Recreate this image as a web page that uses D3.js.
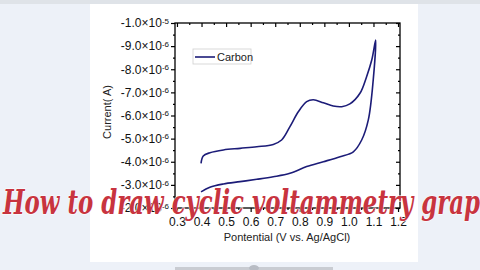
<!DOCTYPE html>
<html><head><meta charset="utf-8">
<script src="https://cdn.jsdelivr.net/npm/d3@7"></script>
<style>
html,body{margin:0;padding:0;background:#edf1f8;}
svg{display:block;font-family:"Liberation Sans",Arial,sans-serif;}
</style></head>
<body>
<svg id="c" width="480" height="270"></svg>
<script>
// ---- data ----
const upperPotential = [0.398,0.407,0.434,0.489,0.557,0.625,0.692,0.726,0.760,0.794,0.828,0.855,0.896,0.936,0.971,1.004,1.045,1.072,1.093,1.109];
const upperCurrent   = [-3.93e-6,-4.25e-6,-4.39e-6,-4.51e-6,-4.58e-6,-4.65e-6,-4.75e-6,-4.94e-6,-5.52e-6,-6.16e-6,-6.60e-6,-6.68e-6,-6.55e-6,-6.41e-6,-6.38e-6,-6.50e-6,-6.96e-6,-7.68e-6,-8.40e-6,-9.26e-6];
const lowerPotential = [1.099,1.079,1.052,1.018,0.964,0.896,0.828,0.760,0.692,0.625,0.557,0.489,0.434,0.398];
const lowerCurrent   = [-7.54e-6,-5.81e-6,-4.94e-6,-4.43e-6,-4.22e-6,-4.00e-6,-3.79e-6,-3.50e-6,-3.35e-6,-3.24e-6,-3.14e-6,-3.04e-6,-2.90e-6,-2.70e-6];
const xTicks = [0.3,0.4,0.5,0.6,0.7,0.8,0.9,1.0,1.1,1.2];
const yTicks = [-2e-6,-3e-6,-4e-6,-5e-6,-6e-6,-7e-6,-8e-6,-9e-6,-1e-5];
const seriesName = "Carbon";
const xTitle = "Pontential (V vs. Ag/AgCl)";
const yTitle = "Current( A)";
const banner = "How to draw cyclic voltammetry grap";

const svg = d3.select("#c");
// page background pieces
svg.append("rect").attr("x",0).attr("y",0).attr("width",480).attr("height",270).attr("fill","#edf1f8");
svg.append("rect").attr("x",0).attr("y",0).attr("width",480).attr("height",4).attr("fill","#dfe3e8");
svg.append("rect").attr("x",90).attr("y",4).attr("width",328).attr("height",258).attr("fill","#ffffff");
svg.append("rect").attr("x",175).attr("y",267).attr("width",158).attr("height",3).attr("fill","#c9ccd2");
svg.append("ellipse").attr("cx",254).attr("cy",268).attr("rx",5).attr("ry",3).attr("fill","#b8bcc4");

const L=175,R=400,T=23,B=208;
const x = d3.scaleLinear().domain([0.292,1.208]).range([L,R]);
const y = d3.scaleLinear().domain([-2e-6,-1e-5]).range([B,T]);

const minorX = d3.range(0.35,1.2,0.1);
const minorY = yTicks.slice(0,-1).map(v=>v-0.5e-6);

function fmtY(g){
  g.selectAll(".tick text").each(function(d){
    const t=d3.select(this);
    const e = Math.abs(d)>=9.99e-6 ? -5 : -6;
    const m = d/Math.pow(10,e);
    t.text(null);
    t.append("tspan").text(m.toFixed(1)+"×10");
    t.append("tspan").attr("dy","-0.45em").attr("font-size","8px").text(String(e));
  });
}

// axes
svg.append("g").attr("transform",`translate(${L},0)`)
  .call(d3.axisLeft(y).tickValues(yTicks).tickSize(4).tickPadding(2))
  .call(fmtY);
svg.append("g").attr("transform",`translate(${L},0)`)
  .call(d3.axisLeft(y).tickValues(minorY).tickSize(2).tickFormat(""));
svg.append("g").attr("transform",`translate(${R},0)`)
  .call(d3.axisRight(y).tickValues(yTicks).tickSize(-4).tickFormat(""));
svg.append("g").attr("transform",`translate(${R},0)`)
  .call(d3.axisRight(y).tickValues(minorY).tickSize(-2).tickFormat(""));
svg.append("g").attr("transform",`translate(0,${B})`)
  .call(d3.axisBottom(x).tickValues(xTicks).tickSize(4).tickPadding(5).tickFormat(d3.format(".1f")));
svg.append("g").attr("transform",`translate(0,${B})`)
  .call(d3.axisBottom(x).tickValues(minorX).tickSize(2).tickFormat(""));
svg.append("g").attr("transform",`translate(0,${T})`)
  .call(d3.axisTop(x).tickValues(xTicks).tickSize(-4).tickFormat(""));
svg.append("g").attr("transform",`translate(0,${T})`)
  .call(d3.axisTop(x).tickValues(minorX).tickSize(-2).tickFormat(""));
svg.selectAll(".domain").remove();
svg.selectAll(".tick line").attr("stroke","#000").attr("stroke-width",1.2);
svg.selectAll(".tick text").attr("font-size","12px").attr("fill","#111").attr("font-family","Liberation Sans, Arial, sans-serif");
svg.append("rect").attr("x",L).attr("y",T).attr("width",R-L).attr("height",B-T)
  .attr("fill","none").attr("stroke","#000").attr("stroke-width",1.3);

// curve
const pts = upperPotential.map((p,i)=>[p,upperCurrent[i]])
  .concat(lowerPotential.map((p,i)=>[p,lowerCurrent[i]]));
const line = d3.line().x(d=>x(d[0])).y(d=>y(d[1])).curve(d3.curveCatmullRom.alpha(0.5));
svg.append("path").datum(pts).attr("d",line).attr("fill","none")
  .attr("stroke","#1c1c78").attr("stroke-width",1.6);

// legend
svg.append("rect").attr("x",193).attr("y",49).attr("width",58).attr("height",15)
  .attr("fill","#fff").attr("stroke","#cfcfcf").attr("stroke-width",0.8);
svg.append("line").attr("x1",195).attr("x2",215).attr("y1",57).attr("y2",57)
  .attr("stroke","#1c1c78").attr("stroke-width",1.6);
svg.append("text").attr("x",217).attr("y",61).attr("font-size","11px").attr("fill","#222").text(seriesName);

// titles
svg.append("text").attr("transform","translate(111,112) rotate(-90)").attr("text-anchor","middle")
  .attr("font-size","11px").attr("fill","#222").text(yTitle);
svg.append("text").attr("x",287).attr("y",241).attr("text-anchor","middle")
  .attr("font-size","11px").attr("fill","#222").text(xTitle);

// banner overlay
svg.append("text").attr("x",3).attr("y",214)
  .attr("font-family","DejaVu Serif, serif").attr("font-weight","bold").attr("font-style","italic")
  .attr("font-size","33px").attr("fill","#c8343f")
  .attr("stroke","#ffffff").attr("stroke-width",1.2).attr("paint-order","stroke")
  .attr("textLength",477).attr("lengthAdjust","spacingAndGlyphs")
  .text(banner);
</script>
</body></html>
